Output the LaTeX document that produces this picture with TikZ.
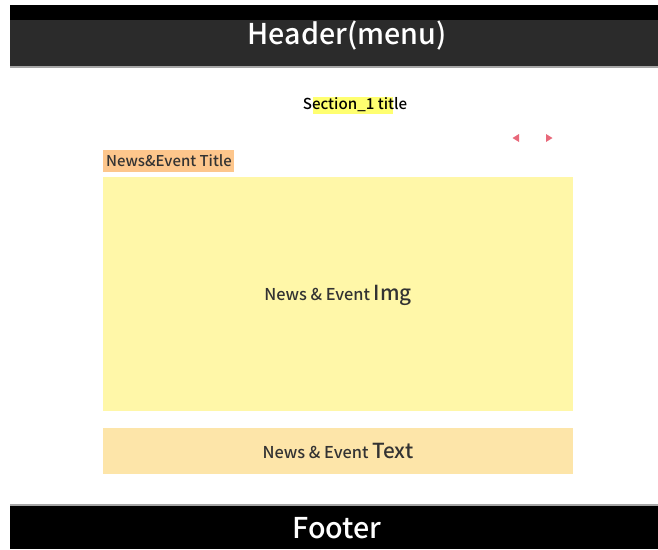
\documentclass[tikz,border=0pt]{standalone}
\usepackage{fontspec}
\setmainfont{Noto Sans CJK KR Medium}
\usepackage{tikz}
\usetikzlibrary{calc, positioning}

\definecolor{hdrgrey}{HTML}{2B2B2B}
\definecolor{imgyellow}{HTML}{FFF7A8}
\definecolor{ttlorange}{HTML}{FDC68C}
\definecolor{txtpeach}{HTML}{FDE5A9}
\definecolor{hilite}{HTML}{FFFF70}
\definecolor{arrowred}{HTML}{E8687A}
\definecolor{inkgrey}{HTML}{333333}

\tikzset{
  bartext/.style={text=white, font=\fontsize{16.3}{19}\selectfont},
  bodytext/.style={text=inkgrey, font=\fontsize{9.3}{11}\selectfont},
  navtip/.style={fill=arrowred, draw=none}
}

\begin{document}
\begin{tikzpicture}[x=0.02cm, y=-0.02cm]
    \useasboundingbox (0,0) rectangle (658,549);

    % header
    \fill[black] (10,5) rectangle (658,20);
    \fill[hdrgrey] (10,20) rectangle (658,67);
    \draw[gray!70, line width=0.6pt] (10,67) -- (658,67);
    \node[bartext] (header) at (347,36) {Header(menu)};

    % section title
    \fill[hilite] (313,97) rectangle (393,114);
    \node[text=black, font=\fontsize{8.6}{10}\selectfont] (sectitle) at (355,105) {Section\_1 title};

    % slide arrows
    \coordinate (prev) at (516,138);
    \coordinate (next) at (549,138);
    \fill[navtip] ($(prev)+(-3.5,0)$) -- ($(prev)+(3,-4)$) -- ($(prev)+(3,4)$) -- cycle;
    \fill[navtip] ($(next)+(3.5,0)$) -- ($(next)+(-3,-4)$) -- ($(next)+(-3,4)$) -- cycle;

    % news & event blocks
    \fill[ttlorange] (103,150) rectangle (234,172);
    \node[bodytext, font=\fontsize{8.5}{10}\selectfont] (newstitle) at (169,161) {News\&Event Title};

    \fill[imgyellow] (103,177) rectangle (573,411);
    \node[bodytext] (newsimg) at (338,295) {News \& Event {\fontsize{11.8}{13}\selectfont Img}};

    \fill[txtpeach] (103,428) rectangle (573,474);
    \node[bodytext] (newstext) at (338,451) {News \& Event {\fontsize{11.8}{13}\selectfont Text}};

    % footer
    \fill[black] (10,505) rectangle (658,549);
    \draw[gray!70, line width=0.6pt] (10,505) -- (658,505);
    \node[bartext] (footer) at (337,528) {Footer};
\end{tikzpicture}
\end{document}
